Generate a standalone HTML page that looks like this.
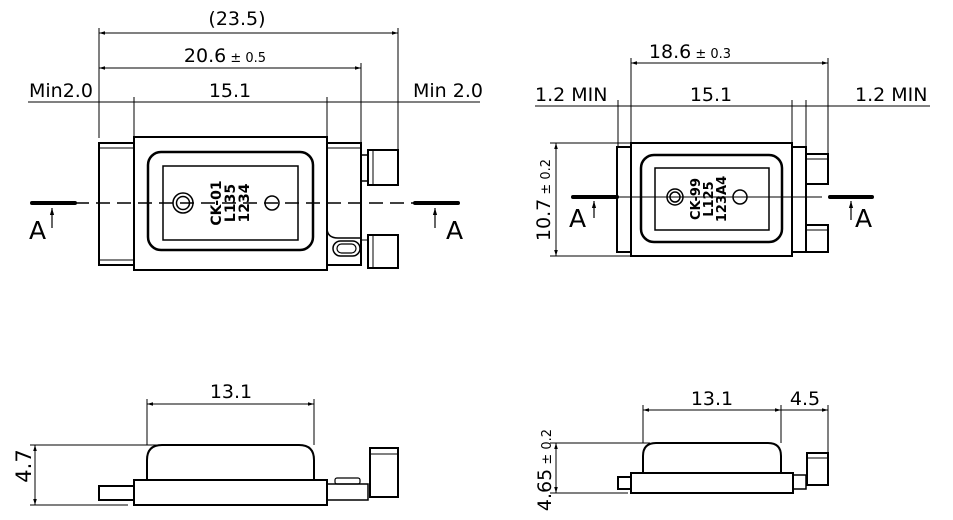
<!DOCTYPE html>
<html><head><meta charset="utf-8"><style>html,body{margin:0;padding:0;background:#fff}svg{display:block}</style></head>
<body>
<svg width="953" height="520" viewBox="0 0 953 520" xmlns="http://www.w3.org/2000/svg" font-family="'DejaVu Sans','Liberation Sans',sans-serif">
<defs>
<marker id="ar" viewBox="0 0 10 10" refX="10" refY="5" markerWidth="6" markerHeight="6" orient="auto-start-reverse"><path d="M0,2L10,5L0,8z" fill="#000"/></marker>
</defs>
<g stroke="#000" fill="none" stroke-width="1">
<line x1="99" y1="33" x2="398" y2="33" marker-start="url(#ar)" marker-end="url(#ar)"/>
<line x1="99" y1="68" x2="361" y2="68" marker-start="url(#ar)" marker-end="url(#ar)"/>
<line x1="28" y1="102" x2="480" y2="102"/>
<line x1="99" y1="28" x2="99" y2="138"/>
<line x1="134" y1="97" x2="134" y2="137"/>
<line x1="327" y1="97" x2="327" y2="137"/>
<line x1="361" y1="63" x2="361" y2="143"/>
<line x1="398" y1="28" x2="398" y2="150"/>
</g>
<g stroke="#000" fill="none" stroke-width="2">
<rect x="99" y="143" width="35" height="122"/>
<line x1="99" y1="148" x2="134" y2="148" stroke-width="1"/>
<line x1="99" y1="260" x2="134" y2="260" stroke-width="1"/>
<rect x="134" y="137" width="193" height="133"/>
<path d="M327,143H361V265H327"/>
<path d="M327,148H361" stroke-width="1"/>
<path d="M327,228Q327,238 338,238H361" stroke-width="1.5"/>
<rect x="148" y="152" width="165" height="98" rx="13" stroke-width="2.5"/>
<rect x="163" y="166" width="135" height="74" stroke-width="1.5"/>
<circle cx="183" cy="203" r="10" stroke-width="1.5"/><circle cx="183" cy="203" r="6.5" stroke-width="1.5"/>
<circle cx="272" cy="203" r="7" stroke-width="1.5"/>
<rect x="333" y="241" width="27" height="15" rx="7.5" stroke-width="1.5"/>
<rect x="337" y="244" width="19" height="9" rx="4.5" stroke-width="1.2"/>
<path d="M361,155H368V181H361" stroke-width="1.5"/>
<rect x="368" y="150" width="30" height="35"/>
<line x1="373" y1="150" x2="373" y2="185" stroke-width="1"/>
<rect x="368" y="235" width="30" height="33"/>
<line x1="373" y1="235" x2="373" y2="268" stroke-width="1"/>
<line x1="361" y1="240" x2="368" y2="240" stroke-width="1"/>
</g>
<line x1="75" y1="203" x2="415" y2="203" stroke="#000" stroke-width="1.5" stroke-dasharray="14,7"/>
<line x1="32" y1="203" x2="75" y2="203" stroke="#000" stroke-width="4" stroke-linecap="round"/>
<line x1="415" y1="203" x2="458" y2="203" stroke="#000" stroke-width="4" stroke-linecap="round"/>
<line x1="52" y1="228" x2="52" y2="208" stroke="#000" stroke-width="1.2" marker-end="url(#ar)"/>
<line x1="435" y1="228" x2="435" y2="208" stroke="#000" stroke-width="1.2" marker-end="url(#ar)"/>
<g font-size="19">
<text x="237" y="25" text-anchor="middle">(23.5)</text>
<text x="225" y="62" text-anchor="middle">20.6<tspan font-size="13"> ± 0.5</tspan></text>
<text x="230" y="97" text-anchor="middle">15.1</text>
<text x="29" y="97">Min2.0</text>
<text x="413" y="97">Min 2.0</text>
</g>
<g font-size="25">
<text x="29" y="239">A</text><text x="446" y="239">A</text>
</g>
<g font-size="14" font-weight="bold" text-anchor="middle" font-family="'DejaVu Sans',sans-serif">
<text transform="translate(221,203) rotate(-90)">CK-01</text>
<text transform="translate(235,203) rotate(-90)">L135</text>
<text transform="translate(249,203) rotate(-90)">1234</text>
</g>

<g stroke="#000" fill="none" stroke-width="1">
<line x1="631" y1="63" x2="828" y2="63" marker-start="url(#ar)" marker-end="url(#ar)"/>
<line x1="535" y1="106" x2="930" y2="106"/>
<line x1="618" y1="100" x2="618" y2="147"/>
<line x1="631" y1="58" x2="631" y2="143"/>
<line x1="792" y1="100" x2="792" y2="143"/>
<line x1="806" y1="100" x2="806" y2="147"/>
<line x1="828" y1="58" x2="828" y2="154"/>
<line x1="556" y1="143" x2="556" y2="256" marker-start="url(#ar)" marker-end="url(#ar)"/>
<line x1="550" y1="143" x2="631" y2="143"/>
<line x1="550" y1="256" x2="631" y2="256"/>
<line x1="617" y1="197" x2="822" y2="197"/>
</g>
<g stroke="#000" fill="none" stroke-width="2">
<rect x="617" y="147" width="14" height="105"/>
<rect x="631" y="143" width="161" height="113"/>
<rect x="792" y="147" width="14" height="105"/>
<rect x="806" y="154" width="22" height="30"/>
<rect x="806" y="225" width="22" height="27"/>
<line x1="806" y1="159" x2="828" y2="159" stroke-width="1"/>
<line x1="806" y1="230" x2="828" y2="230" stroke-width="1"/>
<rect x="641" y="155" width="141" height="87" rx="13" stroke-width="2.5"/>
<rect x="655" y="168" width="114" height="62" stroke-width="1.5"/>
<circle cx="675" cy="197" r="8" stroke-width="1.5"/><circle cx="675" cy="197" r="5" stroke-width="1.5"/>
<circle cx="740" cy="197" r="7" stroke-width="1.5"/>
</g>
<line x1="573" y1="197" x2="617" y2="197" stroke="#000" stroke-width="4" stroke-linecap="round"/>
<line x1="830" y1="197" x2="872" y2="197" stroke="#000" stroke-width="4" stroke-linecap="round"/>
<line x1="594" y1="218" x2="594" y2="201" stroke="#000" stroke-width="1.2" marker-end="url(#ar)"/>
<line x1="851" y1="220" x2="851" y2="201" stroke="#000" stroke-width="1.2" marker-end="url(#ar)"/>
<g font-size="19">
<text x="690" y="58" text-anchor="middle">18.6<tspan font-size="13"> ± 0.3</tspan></text>
<text x="711" y="101" text-anchor="middle">15.1</text>
<text x="535" y="101">1.2 MIN</text>
<text x="855" y="101">1.2 MIN</text>
<text transform="translate(550,200) rotate(-90)" text-anchor="middle">10.7<tspan font-size="13"> ± 0.2</tspan></text>
</g>
<g font-size="25"><text x="569" y="227">A</text><text x="855" y="227">A</text></g>
<g font-size="13" font-weight="bold" text-anchor="middle" font-family="'DejaVu Sans',sans-serif">
<text transform="translate(700,199) rotate(-90)">CK-99</text>
<text transform="translate(713,199) rotate(-90)">L125</text>
<text transform="translate(726,199) rotate(-90)">123A4</text>
</g>

<g stroke="#000" fill="none" stroke-width="1">
<line x1="147" y1="404" x2="314" y2="404" marker-start="url(#ar)" marker-end="url(#ar)"/>
<line x1="147" y1="399" x2="147" y2="445"/>
<line x1="314" y1="399" x2="314" y2="445"/>
<line x1="35" y1="445" x2="35" y2="505" marker-start="url(#ar)" marker-end="url(#ar)"/>
<line x1="30" y1="445" x2="160" y2="445"/>
<line x1="30" y1="505" x2="128" y2="505"/>
</g>
<g stroke="#000" fill="none" stroke-width="2">
<path d="M147,480V460Q147,445 162,445H299Q314,445 314,460V480"/>
<rect x="134" y="480" width="193" height="25"/>
<rect x="99" y="486" width="35" height="14"/>
<rect x="327" y="484" width="41" height="16" stroke-width="1.5"/>
<rect x="335" y="478" width="25" height="6" rx="2" stroke-width="1.2"/>
<rect x="370" y="448" width="28" height="49"/>
<line x1="370" y1="454" x2="398" y2="454" stroke-width="1"/>
</g>
<text x="231" y="398" font-size="19" text-anchor="middle">13.1</text>
<text transform="translate(31,466) rotate(-90)" font-size="21" text-anchor="middle">4.7</text>

<g stroke="#000" fill="none" stroke-width="1">
<line x1="643" y1="410" x2="781" y2="410" marker-start="url(#ar)" marker-end="url(#ar)"/>
<line x1="781" y1="410" x2="828" y2="410" marker-end="url(#ar)"/>
<line x1="643" y1="405" x2="643" y2="443"/>
<line x1="781" y1="405" x2="781" y2="443"/>
<line x1="828" y1="405" x2="828" y2="453"/>
<line x1="556" y1="443" x2="556" y2="493" marker-start="url(#ar)" marker-end="url(#ar)"/>
<line x1="550" y1="443" x2="650" y2="443"/>
<line x1="550" y1="493" x2="628" y2="493"/>
</g>
<g stroke="#000" fill="none" stroke-width="2">
<path d="M643,473V456Q643,443 656,443H768Q781,443 781,456V473"/>
<rect x="631" y="473" width="162" height="20"/>
<rect x="618" y="477" width="13" height="12"/>
<rect x="793" y="475" width="13" height="14" stroke-width="1.5"/>
<rect x="807" y="453" width="21" height="32"/>
<line x1="807" y1="458" x2="828" y2="458" stroke-width="1"/>
</g>
<text x="712" y="405" font-size="19" text-anchor="middle">13.1</text>
<text x="805" y="405" font-size="19" text-anchor="middle">4.5</text>
<text transform="translate(551,470) rotate(-90)" font-size="19" text-anchor="middle">4.65<tspan font-size="13"> ± 0.2</tspan></text>
</svg>
</body></html>
